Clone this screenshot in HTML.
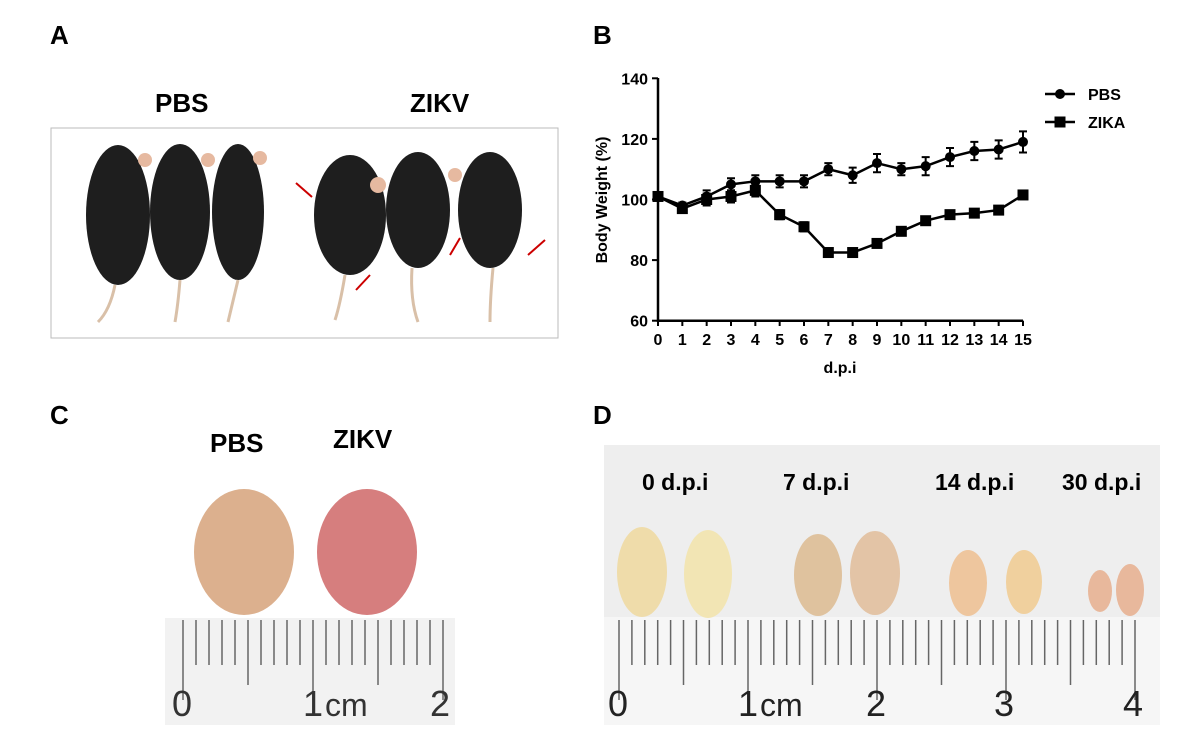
<!DOCTYPE html>
<html><head><meta charset="utf-8">
<style>
body{margin:0;background:#fff;width:1200px;height:742px;overflow:hidden;position:relative;font-family:"Liberation Sans",Arial,sans-serif}
.abs{position:absolute}
.lbl{font-weight:bold;font-size:26px;position:absolute}
</style></head><body>
<div class="lbl" style="left:50px;top:20px">A</div>
<div class="lbl" style="left:593px;top:20px">B</div>
<div class="lbl" style="left:50px;top:400px">C</div>
<div class="lbl" style="left:593px;top:400px">D</div>

<!-- Panel A -->
<div class="abs" style="left:155px;top:88px;font-weight:bold;font-size:26px">PBS</div>
<div class="abs" style="left:410px;top:88px;font-weight:bold;font-size:26px">ZIKV</div>
<svg class="abs" style="left:0;top:0" width="600" height="400">
 <rect x="51" y="128" width="507" height="210" fill="#fff" stroke="#bbb"/>
 <g fill="#1e1e1e">
  <ellipse cx="118" cy="215" rx="32" ry="70"/><ellipse cx="180" cy="212" rx="30" ry="68"/><ellipse cx="238" cy="212" rx="26" ry="68"/>
  <ellipse cx="350" cy="215" rx="36" ry="60"/><ellipse cx="418" cy="210" rx="32" ry="58"/><ellipse cx="490" cy="210" rx="32" ry="58"/>
 </g>
 <g stroke="#d9c0a8" stroke-width="3" fill="none">
  <path d="M115 285 Q110 310 98 322"/><path d="M180 280 Q178 305 175 322"/><path d="M238 280 Q232 305 228 322"/>
  <path d="M345 275 Q340 305 335 320"/><path d="M412 268 Q410 300 418 322"/><path d="M493 268 Q490 300 490 322"/>
 </g>
 <g fill="#e6b9a0"><circle cx="145" cy="160" r="7"/><circle cx="208" cy="160" r="7"/><circle cx="260" cy="158" r="7"/><circle cx="378" cy="185" r="8"/><circle cx="455" cy="175" r="7"/></g>
 <g stroke="#c00" stroke-width="2"><line x1="296" y1="183" x2="312" y2="197"/><line x1="356" y1="290" x2="370" y2="275"/><line x1="450" y1="255" x2="460" y2="238"/><line x1="528" y1="255" x2="545" y2="240"/></g>
</svg>

<!-- Panel B chart -->
<svg class="abs" style="left:0;top:0" width="1200" height="400" id="chart"></svg>

<!-- Panel C -->
<div class="abs" style="left:210px;top:428px;font-weight:bold;font-size:26px">PBS</div>
<div class="abs" style="left:333px;top:424px;font-weight:bold;font-size:26px">ZIKV</div>
<svg class="abs" style="left:0;top:0" width="600" height="742">
 <ellipse cx="244" cy="552" rx="50" ry="63" fill="#dcb08e"/>
 <ellipse cx="367" cy="552" rx="50" ry="63" fill="#d67e7e"/>
 <rect x="165" y="618" width="290" height="107" fill="#f2f2f2"/>
 <g id="rulerC" stroke="#666" stroke-width="1.5"></g>
 <g font-size="36" fill="#333" font-family="Liberation Sans">
  <text x="172" y="716">0</text><text x="303" y="716">1</text><text x="325" y="716" font-size="32">cm</text><text x="430" y="716">2</text></g>
</svg>

<!-- Panel D -->
<svg class="abs" style="left:0;top:0" width="1200" height="742">
 <rect x="604" y="445" width="556" height="172" fill="#eeeeee"/>
 <rect x="604" y="617" width="556" height="108" fill="#f6f6f6"/>
 <g font-weight="bold" font-size="23" fill="#000" font-family="Liberation Sans">
  <text x="642" y="490">0 d.p.i</text><text x="783" y="490">7 d.p.i</text><text x="935" y="490">14 d.p.i</text><text x="1062" y="490">30 d.p.i</text></g>
 <ellipse cx="642" cy="572" rx="25" ry="45" fill="#efdcaa"/><ellipse cx="708" cy="574" rx="24" ry="44" fill="#f2e5b4"/>
 <ellipse cx="818" cy="575" rx="24" ry="41" fill="#dfc29e"/><ellipse cx="875" cy="573" rx="25" ry="42" fill="#e3c4a6"/>
 <ellipse cx="968" cy="583" rx="19" ry="33" fill="#eec69e"/><ellipse cx="1024" cy="582" rx="18" ry="32" fill="#f0d09e"/>
 <ellipse cx="1100" cy="591" rx="12" ry="21" fill="#e8b89c"/><ellipse cx="1130" cy="590" rx="14" ry="26" fill="#e8b89c"/>
 <g id="rulerD" stroke="#666" stroke-width="1.5"></g>
 <g font-size="36" fill="#222" font-family="Liberation Sans">
  <text x="608" y="716">0</text><text x="738" y="716">1</text><text x="760" y="716" font-size="32">cm</text><text x="866" y="716">2</text><text x="994" y="716">3</text><text x="1123" y="716">4</text></g>
</svg>

<script>
const days=[0,1,2,3,4,5,6,7,8,9,10,11,12,13,14,15];
const pbsVals=[101,98,101,105,106,106,106,110,108,112,110,111,114,116,116.5,119];
const pbsErr=[1,1,2,2,2,2,2,2,2.5,3,2,3,3,3,3,3.5];
const zikaVals=[101,97,100,101,103,95,91,82.5,82.5,85.5,89.5,93,95,95.5,96.5,101.5];
const zikaErr=[1,1,2,2,2,1.5,1.5,1,0.5,1,0.5,1,0.5,1,0.5,0.5];
const yTicks=[60,80,100,120,140];
const NS='http://www.w3.org/2000/svg';
const svg=document.getElementById('chart');
const X=d=>658+(d-0)*(1023-658)/15;
const Y=v=>320.7-(v-60)*(320.7-78.3)/80;
function mk(t,a,p){const e=document.createElementNS(NS,t);for(const k in a)e.setAttribute(k,a[k]);(p||svg).appendChild(e);return e;}
let e;
e=mk('path',{d:`M658 78 V320.7 H1023`,stroke:'#000','stroke-width':2.5,fill:'none'});


yTicks.forEach(v=>{
 mk('line',{x1:652,x2:658,y1:Y(v),y2:Y(v),stroke:'#000','stroke-width':2});
 e=mk('text',{x:648,y:Y(v)+6,'text-anchor':'end','font-size':16,'font-weight':'bold'});e.textContent=v;
 
 
});
days.forEach(d=>{
 mk('line',{x1:X(d),x2:X(d),y1:320.7,y2:326,stroke:'#000','stroke-width':2});
 e=mk('text',{x:X(d),y:345,'text-anchor':'middle','font-size':16,'font-weight':'bold'});e.textContent=d;
 
 
});
e=mk('text',{x:840,y:373,'text-anchor':'middle','font-size':16,'font-weight':'bold'});e.textContent='d.p.i';


e=mk('text',{x:0,y:0,'text-anchor':'middle','font-size':16,'font-weight':'bold',transform:'translate(607,200) rotate(-90)'});e.textContent='Body Weight (%)';


function series(vals,err,shape,name){
 const g=mk('g',{});
 
 
 mk('polyline',{points:days.map((d,i)=>X(d)+','+Y(vals[i])).join(' '),fill:'none',stroke:'#000','stroke-width':2.5},g);
 days.forEach((d,i)=>{
  const x=X(d),y=Y(vals[i]),e1=Y(vals[i]+err[i]),e2=Y(vals[i]-err[i]);
  mk('path',{d:`M${x} ${e1}V${e2}M${x-4} ${e1}H${x+4}M${x-4} ${e2}H${x+4}`,stroke:'#000','stroke-width':2},g);
  let m=shape==='c'?mk('circle',{cx:x,cy:y,r:5,fill:'#000'},g):mk('rect',{x:x-5.5,y:y-5.5,width:11,height:11,fill:'#000'},g);
  
  
 });
}
series(zikaVals,zikaErr,'s','zika');
series(pbsVals,pbsErr,'c','pbs');
// legend
mk('line',{x1:1045,x2:1075,y1:94,y2:94,stroke:'#000','stroke-width':2.5});mk('circle',{cx:1060,cy:94,r:5});
e=mk('text',{x:1088,y:100,'font-size':16,'font-weight':'bold'});e.textContent='PBS';


mk('line',{x1:1045,x2:1075,y1:122,y2:122,stroke:'#000','stroke-width':2.5});mk('rect',{x:1054.5,y:116.5,width:11,height:11});
e=mk('text',{x:1088,y:128,'font-size':16,'font-weight':'bold'});e.textContent='ZIKA';


// rulers
function ruler(id,x0,cm,n,top){
 const g=document.getElementById(id);
 for(let i=0;i<=n*10;i++){
  const x=x0+i*cm/10;const len=i%10===0?80:(i%5===0?65:45);
  mk('line',{x1:x,x2:x,y1:top,y2:top+len},g);
 }
}
ruler('rulerC',183,130,2,620);
ruler('rulerD',619,129,4,620);
</script>
</body></html>
